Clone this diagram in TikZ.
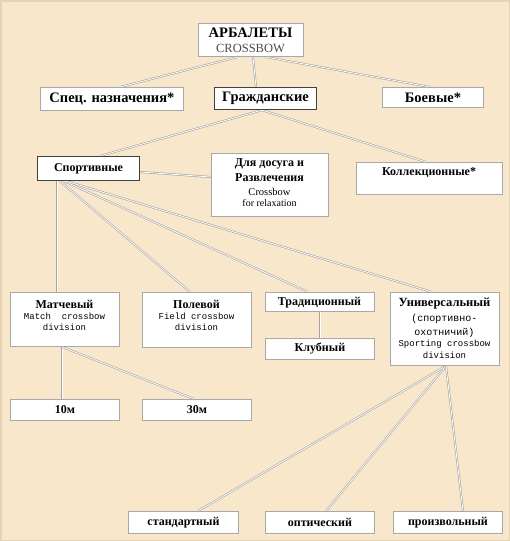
\documentclass[tikz,border=0pt]{standalone}
\usepackage{fontspec}
\setmainfont{Liberation Serif}
\newfontfamily\monof{Liberation Mono}
\usetikzlibrary{calc,backgrounds}
\definecolor{bg}{HTML}{F8E7CA}
\definecolor{frame}{HTML}{E6D3B3}
\definecolor{bxline}{HTML}{A8A8A8}
\definecolor{lnc}{HTML}{A4A4A4}
\tikzset{
  bx/.style={draw=bxline, fill=white, line width=0.9pt, inner sep=0pt, anchor=north west},
  bxd/.style={bx, draw=black!75, line width=1.1pt},
  lbl/.style={font=\fontsize{12}{14}\selectfont\bfseries, inner sep=0pt, align=center},
  big/.style={lbl, font=\fontsize{14.5}{16}\selectfont\bfseries},
  sub/.style={font=\fontsize{10.5}{12}\selectfont, inner sep=0pt, align=center},
  mono/.style={font=\fontsize{9}{11}\selectfont\monof, inner sep=0pt, align=center},
  conn/.style={draw=lnc, double=white, double distance=0.8pt, line width=0.6pt},
}
\newcommand{\bxat}[6]{% style, name, x1, y1, x2, y2
  \node[#1, minimum width={(#5-#3)*1pt}, minimum height={(#6-#4)*1pt}] (#2) at (#3,#4) {};}
\newcommand{\ptN}[2]{($(#1.north west)+(#2,0)$)}
\newcommand{\ptS}[2]{($(#1.south west)+(#2,0)$)}
\begin{document}
\begin{tikzpicture}[x=1pt,y=-1pt]
\useasboundingbox (0,0) rectangle (510,541);
% boxes
\bxat{bx}{root}{198}{23}{303}{56}
\bxat{bx}{spec}{40}{87}{183}{110}
\bxat{bxd}{civ}{214}{87}{316}{109}
\bxat{bx}{mil}{382}{87}{483}{107}
\bxat{bxd}{sport}{37}{156}{139}{180}
\bxat{bx}{leis}{211}{153}{328}{216}
\bxat{bx}{coll}{356}{162}{502}{194}
\bxat{bx}{match}{10}{292}{119}{346}
\bxat{bx}{field}{142}{292}{251}{347}
\bxat{bx}{trad}{265}{292}{374}{311}
\bxat{bx}{club}{265}{338}{374}{359}
\bxat{bx}{univ}{390}{292}{499}{365}
\bxat{bx}{m10}{10}{399}{119}{420}
\bxat{bx}{m30}{142}{399}{251}{420}
\bxat{bx}{std}{128}{511}{238}{533}
\bxat{bx}{opt}{265}{511}{374}{533}
\bxat{bx}{free}{393}{511}{502}{533}
% texts
\node[big] (rootT) at (250.5,33) {АРБАЛЕТЫ};
\node[inner sep=0pt, font=\fontsize{12.5}{14}\selectfont, text=black!70] (rootS) at (250.5,48) {CROSSBOW};
\node[big] (specT) at (spec) {Спец. назначения*};
\node[big] (civT) at (civ) {Гражданские};
\node[big] (milT) at (mil) {Боевые*};
\node[lbl] (sportT) at (sport) {Спортивные};
\node[lbl] (leisT1) at (269.5,164) {Для досуга и};
\node[lbl] (leisT2) at (269.5,178) {Развлечения};
\node[sub] (leisT3) at (269.5,191.5) {Crossbow};
\node[sub, font=\fontsize{10}{12}\selectfont] (leisT4) at (269.5,203) {for relaxation};
\node[lbl] (collT) at (429,173) {Коллекционные*};
\node[lbl] (matchT) at (64.5,304) {Матчевый};
\node[mono] (matchS1) at (64.5,316.5) {Match\ \ crossbow};
\node[mono] (matchS2) at (64.5,327) {division};
\node[lbl] (fieldT) at (196.5,304) {Полевой};
\node[mono] (fieldS1) at (196.5,316.5) {Field crossbow};
\node[mono] (fieldS2) at (196.5,327) {division};
\node[lbl] (tradT) at (319.5,303) {Традиционный};
\node[lbl] (clubT) at (club) {Клубный};
\node[lbl, font=\fontsize{12.5}{14}\selectfont\bfseries] (univT) at (444.5,304) {Универсальный};
\node[mono, font=\fontsize{10}{12}\selectfont\monof] (univS1) at (444.5,319) {(спортивно-};
\node[mono, font=\fontsize{10}{12}\selectfont\monof] (univS2) at (444.5,333) {охотничий)};
\node[mono] (univS3) at (444.5,344) {Sporting crossbow};
\node[mono] (univS4) at (444.5,355) {division};
\node[lbl] (m10T) at (m10) {10м};
\node[lbl] (m30T) at (m30) {30м};
\node[lbl] (stdT) at (std) {стандартный};
\node[lbl] (optT) at (opt) {оптический};
\node[lbl] (freeT) at (free) {произвольный};
% connectors and background
\begin{scope}[on background layer]
\path[fill=bg, draw=frame, line width=1.5pt] (0.75,0.75) rectangle (509.25,540.25);
\draw[conn] \ptS{root}{40} -- \ptN{spec}{80};
\draw[conn] \ptS{root}{55} -- \ptN{civ}{42};
\draw[conn] \ptS{root}{67} -- \ptN{mil}{48};
\draw[conn] \ptS{civ}{48} -- \ptN{sport}{63};
\draw[conn] \ptS{civ}{48} -- \ptN{coll}{70};
\draw[conn] ($(sport.north east)+(0,16)$) -- ($(leis.north west)+(0,24)$);
\draw[conn] \ptS{sport}{20} -- \ptN{match}{47};
\draw[conn] \ptS{sport}{23} -- \ptN{field}{48};
\draw[conn] \ptS{sport}{27} -- \ptN{trad}{43};
\draw[conn] \ptS{sport}{29} -- \ptN{univ}{42};
\draw[conn] \ptS{trad}{55} -- \ptN{club}{55};
\draw[conn] \ptS{match}{52} -- \ptN{m10}{52};
\draw[conn] \ptS{match}{52} -- \ptN{m30}{52};
\draw[conn] \ptS{univ}{56} -- \ptN{std}{70};
\draw[conn] \ptS{univ}{56} -- \ptN{opt}{61};
\draw[conn] \ptS{univ}{56} -- \ptN{free}{70};
\end{scope}
\end{tikzpicture}
\end{document}
